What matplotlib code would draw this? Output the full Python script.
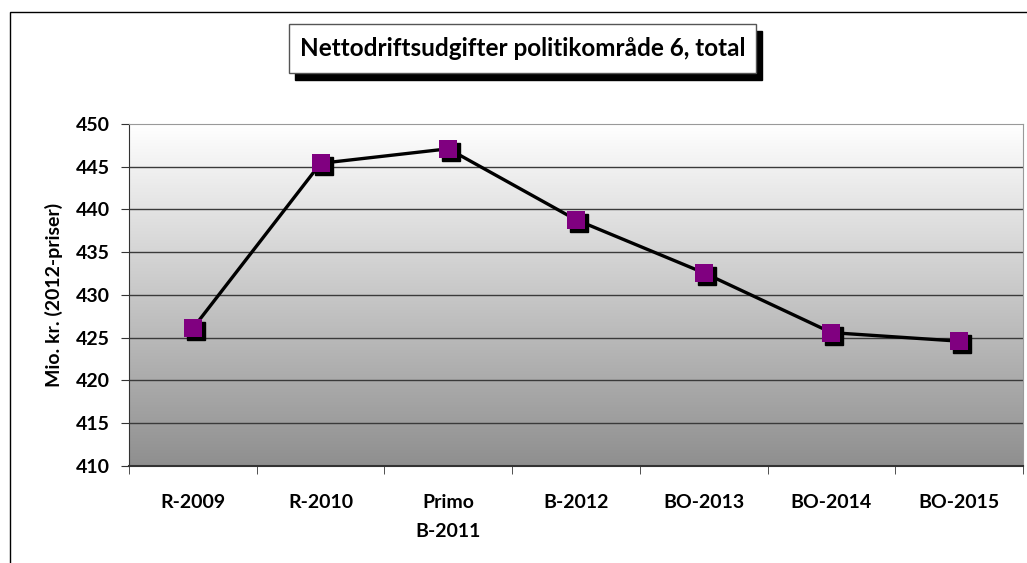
import numpy as np

import matplotlib
matplotlib.use('Agg')
import matplotlib.pyplot as plt
import matplotlib.transforms as mtransforms
from matplotlib.patches import Rectangle

categories = ['R-2009', 'R-2010', 'Primo\nB-2011', 'B-2012', 'BO-2013', 'BO-2014', 'BO-2015']
values = [426.1, 445.4, 447.1, 438.8, 432.6, 425.6, 424.6]
yticks = [410, 415, 420, 425, 430, 435, 440, 445, 450]

title = 'Nettodriftsudgifter politikområde 6, total'
ylabel = 'Mio. kr. (2012-priser)'

plt.rcParams['font.family'] = ['Lato', 'DejaVu Sans']
plt.rcParams['font.weight'] = 'bold'

W, H = 1027, 563
fig = plt.figure(figsize=(W / 100, H / 100), dpi=100)

# outer chart border
fig.patches.append(Rectangle((10 / W, -0.1), 1.2, 1 - 12 / H + 0.1, transform=fig.transFigure,
                             fill=False, edgecolor='black', linewidth=1.0))

ax = fig.add_axes([129 / W, 1 - 466 / H, (1023 - 129) / W, (466 - 124) / H])
x = np.arange(len(categories))
ax.set_xlim(-0.5, len(categories) - 0.5)
ax.set_ylim(yticks[0], yticks[-1])

# gradient background, white at top
grad = np.linspace(0, 1, 256).reshape(-1, 1)
cmap = matplotlib.colors.LinearSegmentedColormap.from_list('bg', ['#ffffff', '#8f8f8f'])
ax.imshow(grad, aspect='auto', cmap=cmap, origin='upper', extent=[0, 1, 0, 1],
          transform=ax.transAxes, zorder=0)

for yv in yticks[1:-1]:
    ax.axhline(yv, color='#3a3a3a', linewidth=1.0, zorder=1)

ax.plot(x, values, color='black', linewidth=2.4, zorder=3)
shadow = ax.transData + mtransforms.ScaledTranslation(3 / 100, -3 / 100, fig.dpi_scale_trans)
ax.plot(x, values, linestyle='none', marker='s', markersize=13, color='black',
        transform=shadow, zorder=4)
ax.plot(x, values, linestyle='none', marker='s', markersize=13, color='#800080',
        markeredgewidth=0, zorder=5)

ax.set_yticks(yticks)
ax.set_yticklabels([str(v) for v in yticks], fontsize=14, fontweight='bold')
ax.set_xticks(x)
ax.set_xticklabels(categories, fontsize=14, fontweight='bold', linespacing=1.9)
ax.set_xticks(np.arange(len(categories) + 1) - 0.5, minor=True)
ax.tick_params(axis='x', which='major', length=0, pad=20)
ax.tick_params(axis='x', which='minor', length=6, direction='out', color='#333333')
ax.tick_params(axis='y', length=6, direction='out', color='#333333', pad=8)

ax.set_ylabel(ylabel, fontsize=14, fontweight='bold', labelpad=9)

ax.spines['top'].set_color('#999999')
ax.spines['right'].set_color('#999999')
ax.spines['left'].set_color('#333333')
ax.spines['bottom'].set_color('#333333')
ax.spines['bottom'].set_linewidth(1.5)

# title box with shadow
bx0, by0, bx1, by1 = 289, 24, 756, 73
fig.patches.append(Rectangle((bx0 / W + 6 / W, 1 - (by1 + 7) / H), (bx1 - bx0) / W, (by1 - by0) / H,
                             transform=fig.transFigure, facecolor='black', edgecolor='black'))
fig.patches.append(Rectangle((bx0 / W, 1 - by1 / H), (bx1 - bx0) / W, (by1 - by0) / H,
                             transform=fig.transFigure, facecolor='white', edgecolor='#555555',
                             linewidth=1.0))
fig.text((bx0 + bx1) / 2 / W, 1 - (by0 + by1) / 2 / H, title, ha='center', va='center',
         fontsize=17.5, fontweight='bold')

fig.savefig('out.png', dpi=100)
plt.close(fig)
